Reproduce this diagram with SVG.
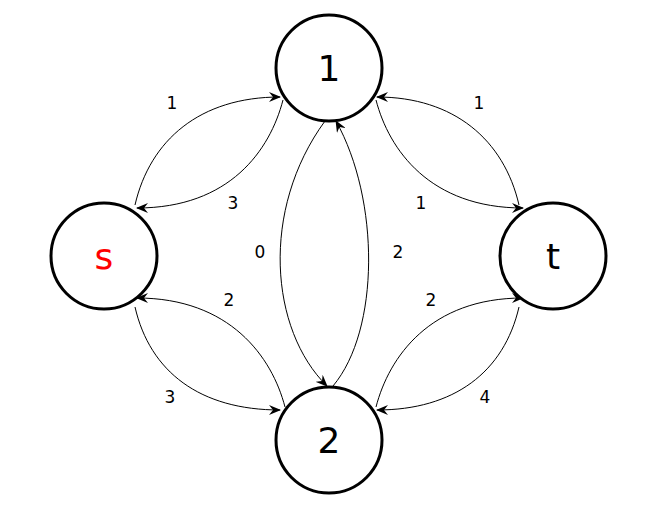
<svg xmlns="http://www.w3.org/2000/svg" width="654" height="514" viewBox="0 0 654 514">
<style>
.n{fill:#fff;stroke:#000;stroke-width:3}
.e{fill:none;stroke:#000;stroke-width:1;marker-end:url(#a)}
.l{font-family:"DejaVu Sans",sans-serif;font-size:17px;text-anchor:middle}
.t{font-family:"DejaVu Sans",sans-serif;font-size:36px;text-anchor:middle}
</style>
<defs><marker id="a" viewBox="0 0 12 10" refX="11" refY="5" markerWidth="12" markerHeight="10" markerUnits="userSpaceOnUse" orient="auto"><path d="M0,0 L12,5 L0,10 L4,5 Z" fill="#000"/></marker></defs>
<g id="edges">
<path class="e" d="M135,205 C150,140 200,97 280,97"/>
<path class="e" d="M283,100 C270,150 230,208 137,208"/>
<path class="e" d="M519,205 C504,140 454,97 377,97"/>
<path class="e" d="M376,100 C389,150 430,208 523,208"/>
<path class="e" d="M135,307 C150,372 200,410 280,410"/>
<path class="e" d="M285,407 C272,357 230,298 137,298"/>
<path class="e" d="M519,307 C504,372 454,410 377,410"/>
<path class="e" d="M376,407 C389,357 430,298 523,298"/>
<path class="e" d="M325,121 C260,210 270,330 327,386"/>
<path class="e" d="M333,386 C380,330 380,200 336,121"/>
</g>
<g class="l">
<text x="172" y="109">1</text><text x="233" y="209">3</text>
<text x="479" y="109">1</text><text x="421" y="209">1</text>
<text x="229" y="306">2</text><text x="170" y="403">3</text>
<text x="431" y="306">2</text><text x="485" y="403">4</text>
<text x="260" y="258">0</text><text x="398" y="258">2</text>
</g>
<g id="n1"><circle class="n" cx="329" cy="68" r="53"/><text class="t" x="329" y="81">1</text></g>
<g id="ns"><circle class="n" cx="104" cy="256" r="53"/><text class="t" x="104" y="269" fill="#f00">s</text></g>
<g id="nt"><circle class="n" cx="553" cy="256" r="53"/><text class="t" x="553" y="269">t</text></g>
<g id="n2"><circle class="n" cx="329" cy="440" r="53"/><text class="t" x="329" y="453">2</text></g>
</svg>
